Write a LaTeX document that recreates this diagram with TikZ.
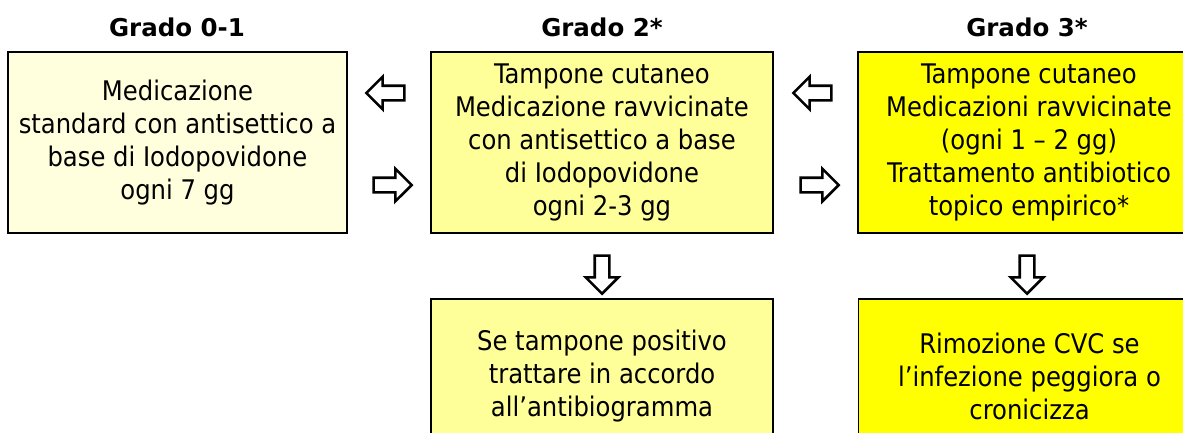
\documentclass[tikz,border=0pt]{standalone}
\usepackage{fontspec}
\setmainfont{DejaVu Sans Condensed}
\newfontfamily\titlefont{DejaVu Sans}
\usetikzlibrary{shapes.arrows}
\definecolor{cream}{HTML}{FFFFDD}
\definecolor{pale}{HTML}{FFFF99}
\definecolor{bright}{HTML}{FFFF00}
\begin{document}
\begin{tikzpicture}[x=1pt,y=-1pt,
  box/.style={draw=black, line width=1.6pt, align=center,
    font=\fontsize{27}{33}\selectfont, inner sep=0pt},
  gradetitle/.style={font=\titlefont\fontsize{24.5}{28}\selectfont\bfseries, anchor=base},
  blockarrow/.style={single arrow, draw=black, line width=2.6pt, fill=white,
    inner sep=6pt, minimum height=38pt, minimum width=0pt,
    single arrow head extend=9pt, single arrow head indent=0pt}
]
\clip (0,0) rectangle (1183,432);
\fill[white] (0,0) rectangle (1183,432);

% titles
\node[gradetitle] (t1) at (177,36) {Grado 0-1};
\node[gradetitle] (t2) at (602,36) {Grado 2*};
\node[gradetitle] (t3) at (1027,36) {Grado 3*};

% top row
\node[box, fill=cream, minimum width=339pt, minimum height=181pt] (b1) at (177.5,142.5)
  {Medicazione\\standard con antisettico a\\base di Iodopovidone\\ogni 7 gg};
\node[box, fill=pale, minimum width=342pt, minimum height=181pt] (b2) at (602,142.5)
  {Tampone cutaneo\\Medicazione ravvicinate\\con antisettico a base\\di Iodopovidone\\ogni 2-3 gg};
\node[box, fill=bright, minimum width=342pt, minimum height=181pt] (b3) at (1029,142.5)
  {Tampone cutaneo\\Medicazioni ravvicinate\\(ogni 1 – 2 gg)\\Trattamento antibiotico\\topico empirico*};

% bottom row
\node[box, fill=pale, minimum width=342pt, minimum height=154pt] (b4) at (602,376)
  {Se tampone positivo\\trattare in accordo\\all’antibiogramma};
\node[box, fill=bright, minimum width=342pt, minimum height=154pt] (b5) at (1029.5,376)
  {Rimozione CVC se\\l’infezione peggiora o\\cronicizza};

% block arrows
\node[blockarrow, shape border rotate=180] (l1) at (389,93) {};
\node[blockarrow] (r1) at (389,185) {};
\node[blockarrow, shape border rotate=180] (l2) at (816,93) {};
\node[blockarrow] (r2) at (816,185) {};
\node[blockarrow, shape border rotate=270] (d1) at (602,271) {};
\node[blockarrow, shape border rotate=270] (d2) at (1027,271) {};
\end{tikzpicture}
\end{document}
